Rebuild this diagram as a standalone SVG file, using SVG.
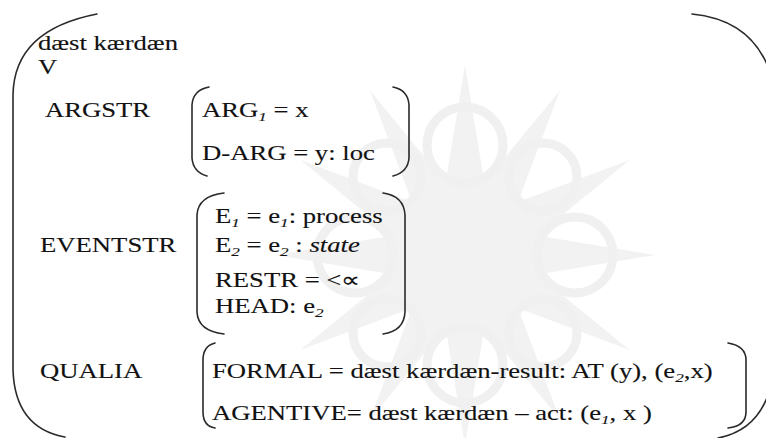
<svg xmlns="http://www.w3.org/2000/svg" width="766" height="438" viewBox="0 0 766 438">
<style>
.br{fill:none;stroke:#2a2a2a;stroke-width:1.6;stroke-linecap:round}
.t{font-family:'Liberation Serif',serif;font-size:21px;fill:#111111;stroke:#111111;stroke-width:0.12}
.sub{font-size:13.5px;font-style:italic}
.it{font-style:italic}
.wm{fill:#f2f2f2}
.wmc{fill:none;stroke:#f0f0f0;stroke-width:9}
</style>
<rect width="766" height="438" fill="#ffffff"/>
<g id="watermark">
<polygon class="wm" points="655,255 537.4,274.4 629.5,350 518,308 560,419.5 484.4,327.4 465,445 445.6,327.4 370,419.5 412,308 300.5,350 392.6,274.4 275,255 392.6,235.6 300.5,160 412,202 370,90.5 445.6,182.6 465,65 484.4,182.6 560,90.5 518,202 629.5,160 537.4,235.6"/>
<circle class="wmc" cx="465" cy="145" r="38"/>
<circle class="wmc" cx="575" cy="255" r="38"/>
<circle class="wmc" cx="465" cy="365" r="38"/>
<circle class="wmc" cx="355" cy="255" r="38"/>
<circle class="wmc" cx="543" cy="177" r="34"/>
<circle class="wmc" cx="387" cy="177" r="34"/>
<circle class="wmc" cx="543" cy="333" r="34"/>
<circle class="wmc" cx="387" cy="333" r="34"/>
</g>
<g id="connectors">
<path id="outer-left" class="br" d="M97,14 Q14,30 13,95 L13,370 Q15,428 65,437"/>
<path id="outer-right-top" class="br" d="M692,14 Q752,20 770,72"/>
<path id="outer-right-bottom" class="br" d="M768,395 Q755,431 718,438"/>
</g>
<g id="header" class="t" transform="scale(1.27 1)">
<text x="29.9" y="50">dæst kærdæn</text>
<text x="29.9" y="74">V</text>
</g>
<g id="argstr">
<path class="br" d="M209,87 Q193,90 192,105 L192,158 Q193,172 207,176"/>
<path class="br" d="M393,87 Q408,90 409,105 L409,158 Q408,172 393,176"/>
<g class="t" transform="scale(1.27 1)">
<text x="35.4" y="117">ARGSTR</text>
<text x="159.1" y="117">ARG<tspan class="sub" dy="4">1</tspan><tspan dy="-4"> = x</tspan></text>
<text x="159.1" y="160">D-ARG = y: loc</text>
</g>
</g>
<g id="eventstr">
<path class="br" d="M224,193 Q198,196 197,215 L197,312 Q198,331 224,334"/>
<path class="br" d="M383,193 Q404,196 405,215 L405,312 Q404,331 383,334"/>
<g class="t" transform="scale(1.27 1)">
<text x="31.5" y="252">EVENTSTR</text>
<text x="169.3" y="223">E<tspan class="sub" dy="4">1</tspan><tspan dy="-4"> = e</tspan><tspan class="sub" dy="4">1</tspan><tspan dy="-4">: process</tspan></text>
<text x="169.3" y="252">E<tspan class="sub" dy="4">2</tspan><tspan dy="-4"> = e</tspan><tspan class="sub" dy="4">2</tspan><tspan dy="-4"> : </tspan><tspan class="it">state</tspan></text>
<text x="169.3" y="287">RESTR = &lt;∝</text>
<text x="169.3" y="313">HEAD: e<tspan class="sub" dy="4">2</tspan></text>
</g>
</g>
<g id="qualia">
<path class="br" d="M215,343 Q203,346 203,360 L203,412 Q203,426 215,428"/>
<path class="br" d="M728,343 Q746,346 746,360 L746,412 Q746,426 728,428"/>
<g class="t" transform="scale(1.27 1)">
<text x="31.5" y="378">QUALIA</text>
<text x="166.9" y="378">FORMAL = dæst kærdæn-result: AT (y), (e<tspan class="sub" dy="4" font-style="normal">2</tspan><tspan dy="-4">,x)</tspan></text>
<text x="166.9" y="420">AGENTIVE= dæst kærdæn – act: (e<tspan class="sub" dy="4">1</tspan><tspan dy="-4">, x )</tspan></text>
</g>
</g>
</svg>
